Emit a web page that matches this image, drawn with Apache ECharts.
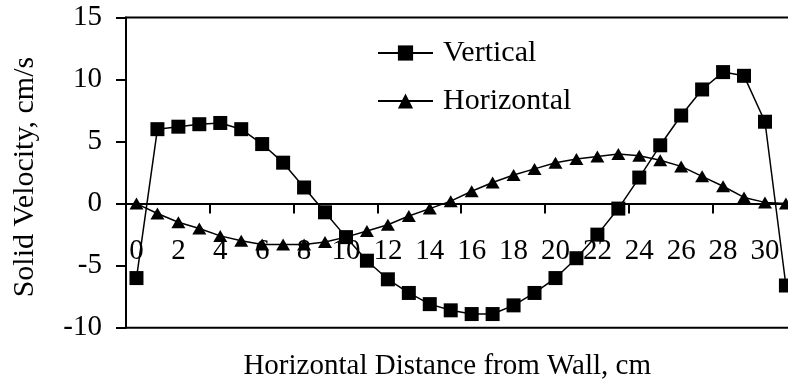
<!DOCTYPE html>
<html>
<head>
<meta charset="utf-8">
<script src="https://cdn.jsdelivr.net/npm/echarts@6/dist/echarts.min.js"></script>
<style>
  html, body { margin: 0; padding: 0; background: #fff; }
  #chart { width: 788px; height: 387px; }
</style>
</head>
<body>
<div id="chart"></div>
<script>
// Distance from the wall, cm (one category per measuring position)
const distances = Array.from({ length: 32 }, (_, i) => String(i));

// Solid velocity components, cm/s
const verticalVelocity = [
  -6.0, 6.0, 6.2, 6.4, 6.5, 6.0, 4.8, 3.3, 1.3, -0.7,
  -2.7, -4.6, -6.1, -7.2, -8.1, -8.6, -8.9, -8.9, -8.2, -7.2,
  -6.0, -4.4, -2.5, -0.4, 2.1, 4.7, 7.1, 9.2, 10.6, 10.3,
  6.6, -6.6
];
const horizontalVelocity = [
  0.0, -0.8, -1.5, -2.0, -2.6, -3.0, -3.3, -3.3, -3.3, -3.1,
  -2.7, -2.2, -1.7, -1.0, -0.4, 0.2, 1.0, 1.7, 2.3, 2.8,
  3.3, 3.6, 3.8, 4.0, 3.85, 3.5, 3.0, 2.2, 1.4, 0.5,
  0.1, 0.0
];

const seriesNames = ['Vertical', 'Horizontal'];
const yTicks = { min: -10, max: 15, step: 5 };

const FONT = '"Liberation Serif", "Times New Roman", serif';
const INK = '#000';

// plot box geometry (px)
const PLOT_TOP = 17.5;
const PLOT_BOTTOM = 59.3;
const PLOT_HEIGHT = 387 - PLOT_TOP - PLOT_BOTTOM;
// the category axis runs along the zero line: lift it from the plot bottom
const zeroLift = PLOT_HEIGHT * (0 - yTicks.min) / (yTicks.max - yTicks.min);

const chart = echarts.init(document.getElementById('chart'), null, { renderer: 'canvas' });

chart.setOption({
  animation: false,
  backgroundColor: '#fff',
  textStyle: { fontFamily: FONT, color: INK },
  grid: {
    left: 126,
    top: PLOT_TOP,
    bottom: PLOT_BOTTOM,
    right: -8.4,
    outerBoundsMode: 'none',
    containLabel: false,
    show: true,
    borderColor: INK,
    borderWidth: 2,
    backgroundColor: 'transparent'
  },
  legend: {
    data: seriesNames,
    orient: 'vertical',
    left: 372,
    top: 33,
    padding: 5,
    itemWidth: 55,
    itemHeight: 19,
    itemGap: 18,
    textStyle: { fontFamily: FONT, fontSize: 30, color: INK, padding: [0, 0, 0, 5] },
    inactiveColor: '#999'
  },
  xAxis: {
    type: 'category',
    position: 'bottom',
    offset: -zeroLift,
    data: distances,
    boundaryGap: true,
    name: 'Horizontal Distance from Wall, cm',
    nameLocation: 'middle',
    nameGap: 148,
    nameTextStyle: { fontFamily: FONT, fontSize: 29, color: INK, padding: [0, 28, 0, 0] },
    axisLine: { onZero: false, lineStyle: { color: INK, width: 2 } },
    axisTick: {
      show: true,
      inside: false,
      interval: 3,
      length: 10,
      lineStyle: { color: INK, width: 2 }
    },
    axisLabel: { interval: 1, margin: 33, fontFamily: FONT, fontSize: 29, color: INK },
    splitLine: { show: false }
  },
  yAxis: {
    type: 'value',
    min: yTicks.min,
    max: yTicks.max,
    interval: yTicks.step,
    name: 'Solid Velocity, cm/s',
    nameLocation: 'middle',
    nameGap: 86,
    nameTextStyle: { fontFamily: FONT, fontSize: 30, color: INK, padding: [0, 9, 0, 0] },
    axisLine: { show: true, lineStyle: { color: INK, width: 2 } },
    axisTick: { show: true, inside: false, length: 10, lineStyle: { color: INK, width: 2 } },
    axisLabel: { margin: 24, fontFamily: FONT, fontSize: 29, color: INK },
    splitLine: { show: false }
  },
  series: [
    {
      name: seriesNames[0],
      type: 'line',
      data: verticalVelocity,
      symbol: 'rect',
      symbolSize: 14,
      showAllSymbol: true,
      lineStyle: { color: INK, width: 1.5 },
      itemStyle: { color: INK, borderWidth: 0 },
      clip: false,
      z: 3
    },
    {
      name: seriesNames[1],
      type: 'line',
      data: horizontalVelocity,
      symbol: 'triangle',
      symbolSize: [14, 12],
      showAllSymbol: true,
      lineStyle: { color: INK, width: 1.5 },
      itemStyle: { color: INK, borderWidth: 0 },
      clip: false,
      z: 2
    }
  ]
});
</script>
</body>
</html>
